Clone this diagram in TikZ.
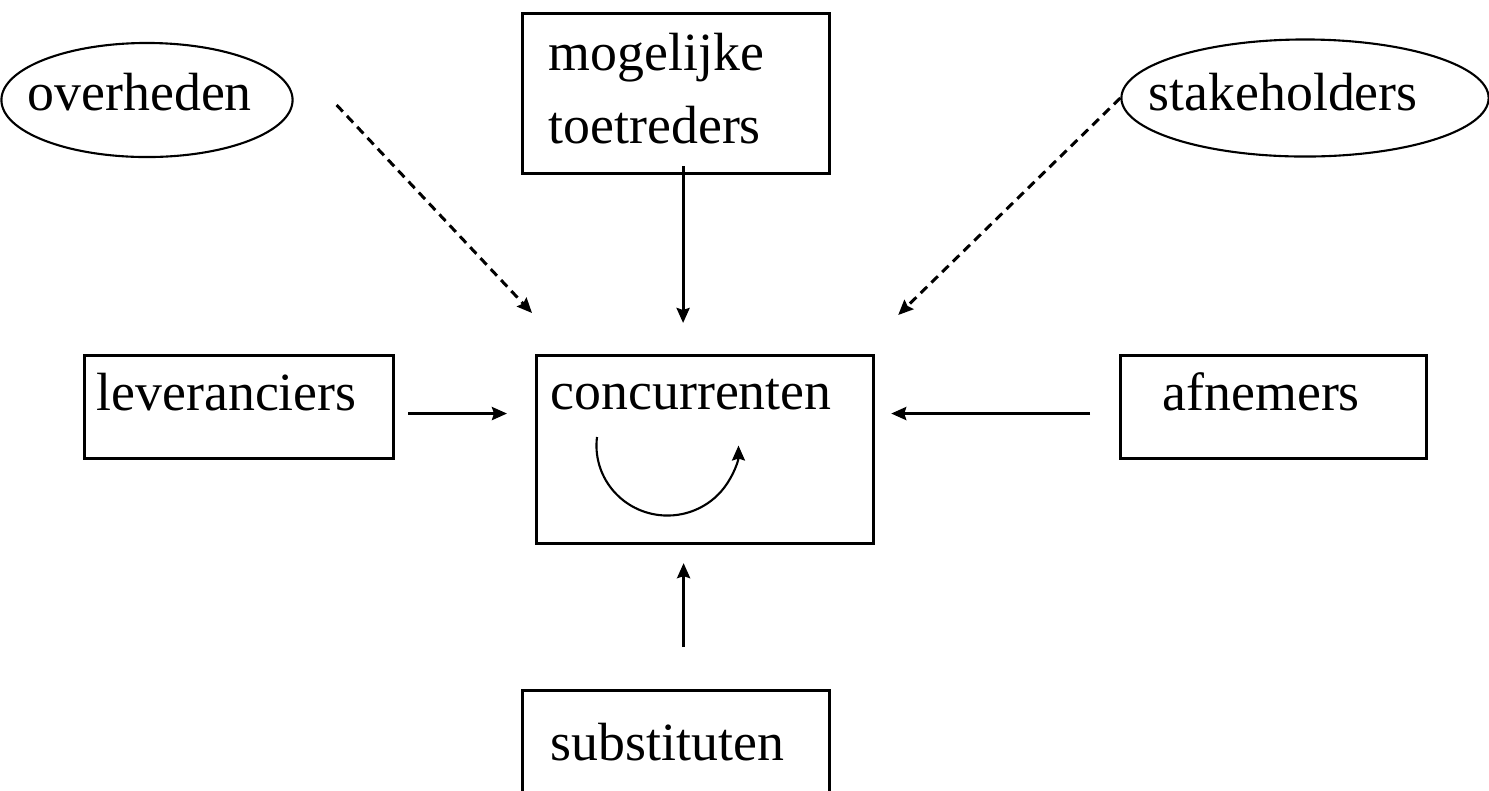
\documentclass[tikz,border=0pt]{standalone}
\usepackage{fontspec}
\setmainfont{Liberation Serif}
\usetikzlibrary{arrows.meta,shapes,calc,positioning}

\begin{document}
\begin{tikzpicture}[x=0.01cm, y=-0.01cm]
		\tikzstyle{every node}=[font=\fontsize{15.3}{20}\selectfont, inner sep=0pt]
		\tikzstyle{box}=[draw, line width=0.85pt, rectangle, anchor=north west]
		\tikzstyle{oval}=[draw, line width=0.6pt, ellipse]
		\tikzstyle{txt}=[anchor=base west]
		\tikzstyle{arr}=[line width=0.85pt, ->, >={Stealth[length=0.15cm, width=0.13cm, inset=0.02cm]}]
		\tikzstyle{dasharr}=[arr, dash pattern=on 0.09cm off 0.06cm]
		\useasboundingbox (0,0) rectangle (1489,790);
		% shapes
		\node [oval, minimum width=2.91cm, minimum height=1.14cm] (ov) at (147,100) {};
		\node [oval, minimum width=3.67cm, minimum height=1.17cm] (stake) at (1305,98) {};
		\node [box, minimum width=3.07cm, minimum height=1.60cm] (toe) at (521,12) {};
		\node [box, minimum width=3.09cm, minimum height=1.03cm] (lev) at (83,354) {};
		\node [box, minimum width=3.37cm, minimum height=1.88cm] (conc) at (535,354) {};
		\node [box, minimum width=3.06cm, minimum height=1.03cm] (afn) at (1119,354) {};
		\node [box, minimum width=3.07cm, minimum height=1.04cm] (sub) at (521,689) {};
		% labels
		\node [txt] (ovT) at (27,110) {overheden};
		\node [txt] (stakeT) at (1148,110) {stakeholders};
		\node [txt] (toeT1) at (548,70) {mogelijke};
		\node [txt] (toeT2) at (548,143) {toetreders};
		\node [txt] (levT) at (96,410) {leveranciers};
		\node [txt] (concT) at (550,409) {concurrenten};
		\node [txt] (afnT) at (1162,410) {afnemers};
		\node [txt] (subT) at (550,760) {substituten};
		% arrows
		\coordinate (toeOut) at ([shift={(7,-9)}]toe.south);
		\coordinate (subOut) at ([shift={(7.5,-42)}]sub.north);
		\coordinate (levOut) at ([shift={(13,6.5)}]lev.east);
		\coordinate (afnOut) at ([shift={(-29,6.5)}]afn.west);
		\draw [arr, shorten >=0.31cm] (toeOut) -- (toeOut |- conc.north);
		\draw [arr, shorten >=0.18cm] (subOut) -- (subOut |- conc.south);
		\draw [arr, shorten >=0.28cm] (levOut) -- (levOut -| conc.west);
		\draw [arr, shorten >=0.16cm] (afnOut) -- (afnOut -| conc.east);
		\draw [dasharr] ([shift={(43,5)}]ov.east) -- ([shift={(-3,-41)}]conc.north west);
		\draw [dasharr] (stake.west) -- ([shift={(23,-39)}]conc.north east);
		\draw [arr, line width=0.6pt] ([shift={(62,83)}]conc.north west) arc [start angle=187, end angle=0, x radius=71, y radius=70];
\end{tikzpicture}
\end{document}
